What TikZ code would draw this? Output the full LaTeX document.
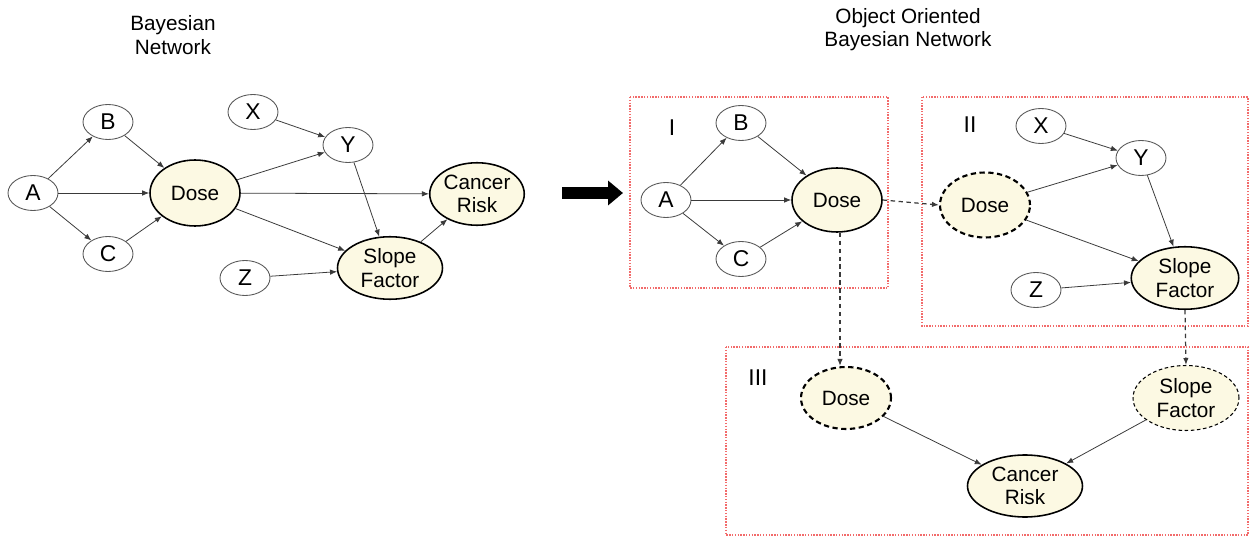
\documentclass[tikz,border=0pt]{standalone}
\usepackage{fontspec}
\setmainfont{Liberation Sans}
\usetikzlibrary{arrows.meta,shapes.geometric}
\definecolor{cream}{HTML}{FCF9E3}
\definecolor{edge}{HTML}{3A3A3A}
\definecolor{frame}{HTML}{F26B6B}
\tikzset{var/.style={ellipse,draw=black!65,line width=0.5pt,inner sep=0pt,minimum width=1cm,minimum height=0.7cm,font=\fontsize{13}{15}\selectfont},
  rv/.style={var,fill=cream,draw=black,line width=0.9pt,inner ysep=-3pt,minimum width=1.8cm,minimum height=1.3cm,align=center,font=\fontsize{11.8}{13.2}\selectfont},
  refrv/.style={rv,dashed,line width=1.2pt,dash pattern=on 3pt off 2pt},
  arr/.style={-{Latex[length=1.4mm,width=1.1mm]},draw=edge,line width=0.45pt},
  link/.style={arr,line width=0.7pt,dash pattern=on 2.5pt off 2pt},
  module/.style={draw=frame,line width=0.6pt,dash pattern=on 0.8pt off 0.8pt},
  tag/.style={font=\fontsize{13}{15}\selectfont},
  ttl/.style={align=center,font=\fontsize{11.8}{13.2}\selectfont}}
\begin{document}
\begin{tikzpicture}[x=0.02cm,y=-0.02cm]
\useasboundingbox (0,0) rectangle (1249,537);
% plain network
\node[ttl] (t1) at (173,35) {Bayesian\\Network};
\node[var] (a) at (33,193) {A};
\node[var] (b) at (108,122) {B};
\node[var] (c) at (108,254) {C};
\node[rv,minimum height=1.32cm] (dose) at (195,193) {Dose};
\node[var] (x) at (253,112) {X};
\node[var] (y) at (348,145) {Y};
\node[var] (z) at (245,278) {Z};
\node[rv,minimum width=2.1cm,minimum height=1.25cm] (sf) at (390,268) {Slope\\Factor};
\node[rv,minimum height=1.25cm] (cr) at (477,194) {Cancer\\Risk};
\draw[arr] (a)--(b);\draw[arr] (a)--(dose);\draw[arr] (a)--(c);
\draw[arr] (b)--(dose);\draw[arr] (c)--(dose);
\draw[arr] (dose)--(y);\draw[arr] (dose)--(cr);\draw[arr] (dose)--(sf);
\draw[arr] (x)--(y);\draw[arr] (y)--(sf);\draw[arr] (z)--(sf);\draw[arr] (sf)--(cr);
% big arrow
\coordinate (go0) at (562,193);
\coordinate (go1) at (623,193);
\draw[line width=0.24cm,-{Triangle[length=3mm,width=4.8mm]}] (go0)--(go1);
% object oriented network
\node[ttl] (t2) at (908,30) {Object Oriented\\Bayesian Network};
\draw[module] (630,97) rectangle (888,288);
\draw[module] (922,97) rectangle (1248,326);
\draw[module] (726,347) rectangle (1248,535);
\node[tag] (m1) at (672,128) {I};
\node[tag] (m2) at (970,125) {II};
\node[tag] (m3) at (758,378) {III};
% module I
\node[var] (a1) at (666,200) {A};
\node[var] (b1) at (741,123) {B};
\node[var] (c1) at (741,259) {C};
\node[rv,minimum height=1.28cm] (dose1) at (837,200) {Dose};
\draw[arr] (a1)--(b1);\draw[arr] (a1)--(dose1);\draw[arr] (a1)--(c1);
\draw[arr] (b1)--(dose1);\draw[arr] (c1)--(dose1);
% module II
\node[var] (x2) at (1041,126) {X};
\node[var] (y2) at (1141,158) {Y};
\node[var] (z2) at (1036,290) {Z};
\node[refrv] (dose2) at (985,205) {Dose};
\node[rv,minimum width=2.15cm,minimum height=1.25cm] (sf2) at (1185,278) {Slope\\Factor};
\draw[arr] (x2)--(y2);\draw[arr] (dose2)--(y2);\draw[arr] (dose2)--(sf2);
\draw[arr] (y2)--(sf2);\draw[arr] (z2)--(sf2);
% module III
\node[refrv,minimum height=1.24cm] (dose3) at (846,398) {Dose};
\node[rv,dashed,line width=0.6pt,dash pattern=on 2pt off 1.5pt,minimum width=2.12cm] (sf3) at (1186,398) {Slope\\Factor};
\node[rv,minimum width=2.3cm,minimum height=1.24cm] (cr3) at (1025,486) {Cancer\\Risk};
\draw[arr] (dose3)--(cr3);\draw[arr] (sf3)--(cr3);
% links between modules
\draw[link] (dose1.east)--(dose2.west);
\draw[link] (dose1.south)++(3,0) coordinate (d1s) (d1s)--(d1s|-dose3.north);
\draw[link] (sf2.south)--(sf3.north);
\end{tikzpicture}
\end{document}
